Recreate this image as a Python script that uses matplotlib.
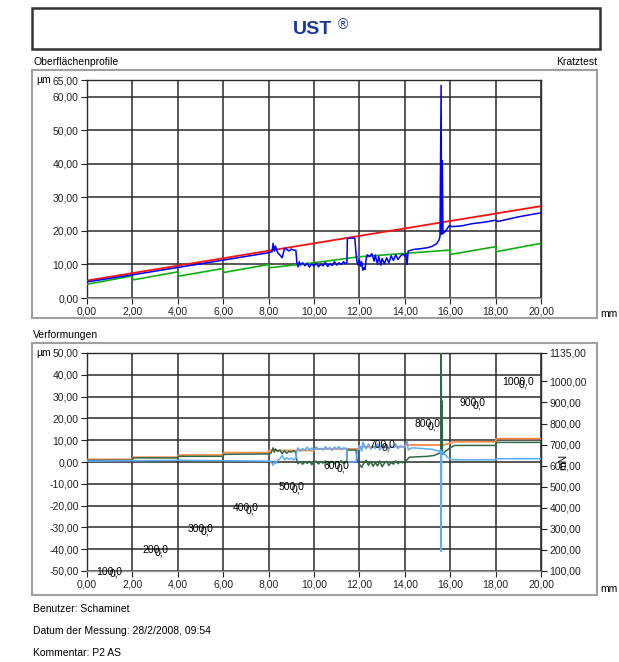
import matplotlib.pyplot as plt
from matplotlib.patches import Rectangle
from matplotlib.ticker import FuncFormatter

plt.rcParams['font.family'] = ['Liberation Sans', 'DejaVu Sans']

# Oberflächenprofile (mm, µm)
red_x = [0.0, 20.0]
red_y = [5.2, 27.4]

green_x = [0.0, 2.0, 2.02, 4.0, 4.02, 6.0, 6.02, 8.0, 8.02, 10.0, 12.0, 14.0,
           16.0, 16.02, 18.0, 18.02, 20.0]
green_y = [4.1, 6.6, 5.4, 7.8, 6.5, 8.8, 7.6, 10.0, 9.0, 10.5, 12.3, 13.3,
           14.3, 13.0, 15.3, 13.8, 16.3]

blue_x = [0.0, 2.0, 4.0, 6.0, 8.0, 8.15, 8.2, 8.25, 8.3, 8.4, 8.5, 8.6, 8.7, 8.8,
          8.9, 9.0, 9.1, 9.2, 9.25, 9.3, 9.35, 9.4, 9.5, 9.6, 9.7, 9.8, 9.9, 10.0,
          10.1, 10.2, 10.3, 10.4, 10.5, 10.6, 10.7, 10.8, 10.9, 11.0, 11.1, 11.2,
          11.3, 11.4, 11.45, 11.47, 11.6, 11.8, 11.85, 11.9, 11.95, 12.0, 12.05,
          12.1, 12.15, 12.2, 12.25, 12.3, 12.35, 12.45, 12.55, 12.65, 12.7, 12.8,
          12.85, 12.95, 13.0, 13.1, 13.2, 13.3, 13.4, 13.5, 13.6, 13.7, 13.8, 13.9,
          14.0, 14.05, 14.1, 14.15, 14.4, 14.7, 15.0, 15.2, 15.4, 15.5, 15.55, 15.6,
          15.62, 15.65, 15.68, 15.8, 15.95, 16.1, 16.5, 17.0, 17.5, 18.0, 18.1,
          19.0, 20.0]
blue_y = [4.8, 6.9, 9.1, 11.3, 13.5, 13.8, 16.3, 14.0, 15.5, 13.5, 12.8, 12.0, 14.8, 14.5,
          14.0, 14.6, 14.3, 14.2, 10.3, 9.3, 10.8, 9.8, 10.5, 9.6, 10.4, 9.2, 10.2, 9.5,
          10.4, 9.3, 10.1, 9.6, 10.6, 9.4, 10.2, 9.7, 10.8, 9.8, 10.5, 10.0,
          10.8, 10.2, 10.5, 17.7, 17.9, 17.8, 13.3, 10.5, 9.8, 11.5, 9.5,
          10.8, 8.3, 9.0, 8.5, 11.8, 12.9, 12.3, 13.2, 11.0, 12.8, 10.0,
          12.4, 9.8, 11.8, 10.2, 12.0, 10.5, 12.6, 11.2, 12.9, 11.5, 12.4, 13.1,
          12.6, 13.2, 10.0, 14.0, 14.5, 14.7, 15.0, 15.4, 16.2, 17.2, 18.3, 63.4,
          19.0, 41.0, 19.2, 20.0, 21.5, 21.3, 21.5, 22.2, 22.6, 23.2, 22.8,
          24.2, 25.4]

# Verformungen (mm, µm)
orange_x = [0, 2, 2.02, 4, 4.02, 6, 6.02, 8, 8.02, 10, 10.02, 12, 12.02, 14, 14.02,
            15.7, 16.2, 18, 18.02, 20]
orange_y = [1.2, 1.2, 2.2, 2.2, 3.2, 3.2, 4.3, 4.3, 5.3, 5.3, 6.0, 6.0, 7.0, 7.0, 7.8,
            7.8, 9.3, 9.3, 10.7, 10.7]

dgreen_x = [0, 2, 2.02, 4, 4.02, 6, 6.02, 8, 8.1, 8.2, 8.25, 8.3, 8.4, 8.5, 8.6, 8.7,
            8.8, 8.9, 9.0, 9.1, 9.2, 9.25, 9.3, 9.4, 9.5, 9.6, 9.7, 9.8, 9.9, 10.0,
            10.1, 10.2, 10.3, 10.4, 10.5, 10.6, 10.7, 10.8, 10.9, 11.0, 11.1, 11.2,
            11.3, 11.45, 11.47, 11.85, 11.9, 12.0, 12.1, 12.2, 12.3, 12.4, 12.5, 12.6,
            12.7, 12.8, 12.9, 13.0, 13.1, 13.2, 13.3, 13.4, 13.5, 13.6, 13.7, 13.8,
            13.9, 14.0, 14.1, 14.2, 14.6, 15.0, 15.3, 15.5, 15.58, 15.6, 15.62, 15.64,
            15.66, 15.8, 16.0, 16.2, 18.0, 18.05, 20.0]
dgreen_y = [0.8, 0.8, 1.9, 1.9, 2.6, 2.6, 3.5, 3.7, 4.0, 6.5, 4.5, 6.0, 4.8, 5.5, 3.8, 5.2,
            4.0, 5.0, 4.5, 5.2, 4.3, 0.5, -0.8, 0.2, -1.0, 0.0, -0.6, 0.3, -1.2, -0.2,
            0.4, -0.9, 0.1, -0.5, 0.5, -1.1, -0.2, 0.3, -0.8, 0.2, -0.4, 0.6,
            -0.6, 0.0, 5.5, 5.5, 0.5, -1.0, -2.5, -0.5, 0.8, -1.5, 0.2, -2.0,
            -0.3, -1.8, 0.4, -2.2, -0.6, 0.3, -1.6, -0.2, -1.0, 0.5, -0.8, 0.2,
            -0.4, 0.5, 1.0, 2.2, 2.4, 2.6, 3.0, 4.0, 4.0, 60.0, 5.0, 28.0,
            3.5, 5.0, 6.5, 7.6, 7.6, 9.0, 9.0]

lblue_x = [0, 2, 4, 6, 8, 8.1, 8.2, 8.25, 8.3, 8.4, 8.5, 8.6, 8.7, 8.8, 8.9, 9.0, 9.1,
           9.2, 9.25, 9.3, 9.4, 9.5, 9.6, 9.7, 9.8, 9.9, 10.0, 10.1, 10.2, 10.3, 10.4,
           10.5, 10.6, 10.7, 10.8, 10.9, 11.0, 11.1, 11.2, 11.3, 11.45, 11.47, 11.85,
           11.9, 12.0, 12.1, 12.15, 12.2, 12.3, 12.4, 12.5, 12.6, 12.7, 12.8, 12.9,
           13.0, 13.1, 13.2, 13.3, 13.4, 13.5, 13.6, 13.7, 13.8, 13.9, 14.0, 14.1,
           14.15, 14.3, 14.8, 15.2, 15.5, 15.58, 15.6, 15.62, 15.7, 15.9, 16.1, 18.0,
           18.05, 20.0]
lblue_y = [0.4, 0.6, 0.8, 0.6, 0.4, 0.0, -1.5, 0.5, -0.8, 0.8, 1.5, 3.0, 1.0, 2.0, 1.2, 1.8,
           1.0, 1.5, 5.5, 6.5, 5.0, 6.2, 5.4, 6.8, 5.6, 6.4, 5.2, 6.9, 5.8, 6.3, 5.5,
           7.0, 5.9, 6.6, 5.3, 6.8, 6.0, 7.1, 5.7, 6.5, 6.2, 0.0, 0.0,
           4.5, 7.5, 5.0, 9.0, 8.0, 6.0, 8.2, 5.8, 7.4, 6.2, 8.5, 5.6,
           7.8, 6.4, 8.0, 5.9, 7.2, 6.6, 8.4, 6.1, 7.5, 6.8, 7.0, 9.5,
           5.5, 6.5, 6.2, 5.8, 5.0, 5.5, -41.0, 5.0, 4.0, 2.0, 1.0, 1.0,
           1.5, 1.5]

# Lastmarken (mm, mN)
load_x = [1, 3, 5, 7, 9, 11, 13, 15, 17, 19]
load_v = [100, 200, 300, 400, 500, 600, 700, 800, 900, 1000]

x_ticks = [0, 2, 4, 6, 8, 10, 12, 14, 16, 18, 20]
top_yticks = [0, 10, 20, 30, 40, 50, 60, 65]
bot_yticks = [-50, -40, -30, -20, -10, 0, 10, 20, 30, 40, 50]
force_ticks = [100, 200, 300, 400, 500, 600, 700, 800, 900, 1000, 1135]

W, H = 619, 662
fig = plt.figure(figsize=(W / 100, H / 100), dpi=100)


def fx(x):
    return x / W


def fy(y):
    return 1 - y / H


comma = FuncFormatter(lambda v, p: f"{v:.2f}".replace('.', ','))
grid_c = '#2a2a2a'
fs = 7.5


def style(ax):
    ax.set_xlim(0, 20)
    ax.set_xticks(x_ticks)
    ax.xaxis.set_major_formatter(comma)
    ax.yaxis.set_major_formatter(comma)
    ax.grid(True, color=grid_c, lw=1.1)
    ax.tick_params(labelsize=fs, length=4, width=0.8, pad=2, colors='#222222')
    for s in ax.spines.values():
        s.set_color(grid_c)
        s.set_linewidth(1.0)
    ax.spines['bottom'].set_color('#9a9a9a')


# Titelkasten
fig.patches.append(Rectangle((fx(32), fy(49)), fx(568), 41 / H, transform=fig.transFigure,
                             fill=False, ec='#333333', lw=1.8))
fig.text(fx(313), fy(29), 'UST', ha='center', va='center', fontsize=14,
         fontweight='bold', color='#1a3a9a')
fig.text(fx(343), fy(25), '®', ha='center', va='center', fontsize=10, color='#1a3a9a')

# Rahmen
fig.patches.append(Rectangle((fx(32), fy(318)), fx(565), 248 / H, transform=fig.transFigure,
                             fill=False, ec='#a0a0a0', lw=1.5))
fig.patches.append(Rectangle((fx(32), fy(595)), fx(565), 252 / H, transform=fig.transFigure,
                             fill=False, ec='#a0a0a0', lw=1.5))

fig.text(fx(33), fy(62), 'Oberflächenprofile', fontsize=fs, va='center')
fig.text(fx(597), fy(62), 'Kratztest', fontsize=fs, va='center', ha='right')
fig.text(fx(33), fy(335), 'Verformungen', fontsize=fs, va='center')

# Oberer Plot
ax1 = fig.add_axes([fx(87), fy(298), fx(454), 218 / H])
ax1.plot(red_x, red_y, color='#ff1010', lw=1.3, zorder=3)
ax1.plot(green_x, green_y, color='#10b010', lw=1.2, zorder=3)
ax1.plot(blue_x, blue_y, color='#0000ff', lw=1.1, zorder=4)
ax1.set_ylim(0, 65)
ax1.set_yticks(top_yticks)
style(ax1)
fig.text(fx(44), fy(80), 'µm', fontsize=fs, va='center', ha='center')
fig.text(fx(600), fy(314), 'mm', fontsize=fs, va='center')

# Unterer Plot
ax2 = fig.add_axes([fx(87), fy(571), fx(454), 218 / H])
ax2.plot(orange_x, orange_y, color='#ff8a4a', lw=1.3, zorder=3)
ax2.plot(dgreen_x, dgreen_y, color='#2f6a45', lw=1.1, zorder=4)
ax2.plot(lblue_x, lblue_y, color='#5aaaff', lw=1.1, zorder=5)
ax2.set_ylim(-50, 50)
ax2.set_yticks(bot_yticks)
style(ax2)

ax3 = ax2.twinx()
ax3.set_ylim(100, 1135)
ax3.set_yticks(force_ticks)
ax3.yaxis.set_major_formatter(comma)
ax3.tick_params(labelsize=fs, length=4, width=0.8, pad=2, colors='#222222')
for s in ax3.spines.values():
    s.set_visible(False)
# Lastbeschriftung, im Original doppelt übereinander gedruckt
for xv, v in zip(load_x, load_v):
    ax3.text(xv, v, f"{v},0", fontsize=fs, ha='center', va='center', zorder=6)
    ax3.annotate("0,", (xv, v), xytext=(3, -2), textcoords='offset points',
                 fontsize=fs, ha='center', va='center', zorder=6)

fig.text(fx(44), fy(353), 'µm', fontsize=fs, va='center', ha='center')
fig.text(fx(600), fy(589), 'mm', fontsize=fs, va='center')
fig.text(fx(563), fy(462), 'mN', fontsize=fs, va='center', ha='center', rotation=90)

# Fußzeile
fig.text(fx(33), fy(609), 'Benutzer: Schaminet', fontsize=fs, va='center')
fig.text(fx(33), fy(631), 'Datum der Messung: 28/2/2008, 09:54', fontsize=fs, va='center')
fig.text(fx(33), fy(653), 'Kommentar: P2 AS', fontsize=fs, va='center')

fig.savefig('out.png', dpi=100)
